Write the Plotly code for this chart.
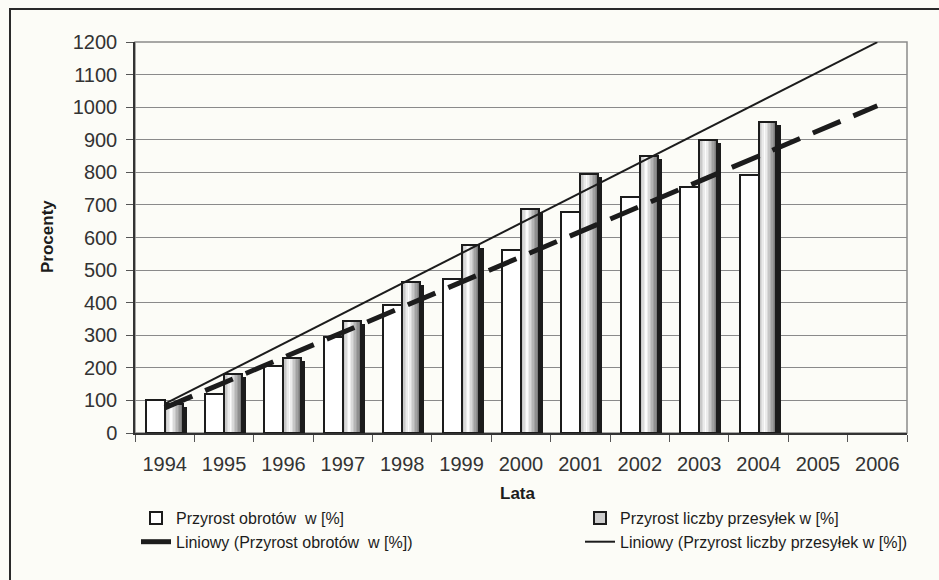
import numpy as np
import plotly.graph_objects as go

# ---------------- data ----------------
years = ['1994', '1995', '1996', '1997', '1998', '1999', '2000',
         '2001', '2002', '2003', '2004', '2005', '2006']
bar_years = years[:11]
turnover = [100, 119, 206, 295, 392, 473, 563, 679, 725, 756, 791]   # Przyrost obrotów w [%]
parcels = [90, 180, 230, 344, 464, 578, 688, 796, 850, 898, 953]     # Przyrost liczby przesyłek w [%]
y_tick_vals = list(range(0, 1201, 100))

name_turn = 'Przyrost obrotów  w [%]'
name_parc = 'Przyrost liczby przesyłek w [%]'
name_trend_turn = 'Liniowy (Przyrost obrotów  w [%])'
name_trend_parc = 'Liniowy (Przyrost liczby przesyłek w [%])'
x_title = 'Lata'
y_title = 'Procenty'

# linear trend lines (Excel "Liniowy"), fitted on the data and extended to 2006
idx = np.arange(len(bar_years))
all_idx = np.arange(len(years))
trend_turn = np.polyval(np.polyfit(idx, turnover, 1), all_idx)
trend_parc = np.polyval(np.polyfit(idx, parcels, 1), all_idx)

# ---------------- style ----------------
FONT = 'Liberation Sans, Arial, sans-serif'
BG = '#fcfcf7'
INK = '#1c1c1c'
W, H = 939, 580
ML, MR, MT, MB = 135, 32, 42, 147

WHITE_OFF, WHITE_W = -0.32, 0.32
GRAY_OFF, GRAY_W = 0.0, 0.30
SHADOW_DX = 0.07
SHADOW_DROP = 9  # drop of shadow top, in value units

fig = go.Figure()

# white bars
fig.add_trace(go.Bar(
    x=bar_years, y=turnover, name=name_turn, offset=WHITE_OFF, width=WHITE_W,
    marker=dict(color='white', line=dict(color=INK, width=2)),
    legend='legend', legendrank=1, hoverinfo='skip'))

# shadow of gradient bars
fig.add_trace(go.Bar(
    x=bar_years, y=[v - SHADOW_DROP for v in parcels], offset=GRAY_OFF + SHADOW_DX, width=GRAY_W,
    marker=dict(color=INK, line=dict(width=0)), showlegend=False, hoverinfo='skip'))

# base of gradient bars (legend entry)
fig.add_trace(go.Bar(
    x=bar_years, y=parcels, name=name_parc, offset=GRAY_OFF, width=GRAY_W,
    marker=dict(color='#cdcdcd', line=dict(color=INK, width=2)),
    legend='legend2', legendrank=2, hoverinfo='skip'))

# gradient slices
n_slices = 12
for i in range(n_slices):
    t = (i + 0.5) / n_slices
    if t < 0.38:
        g = 175 + (253 - 175) * (t / 0.38)
    else:
        g = 253 - (253 - 115) * ((t - 0.38) / 0.62)
    g = int(round(g))
    fig.add_trace(go.Bar(
        x=bar_years, y=parcels, offset=GRAY_OFF + i * GRAY_W / n_slices,
        width=GRAY_W / n_slices + 0.002,
        marker=dict(color=f'rgb({g},{g},{g})', line=dict(width=0)),
        showlegend=False, hoverinfo='skip'))

# outline of gradient bars
fig.add_trace(go.Bar(
    x=bar_years, y=parcels, offset=GRAY_OFF, width=GRAY_W,
    marker=dict(color='rgba(0,0,0,0)', line=dict(color=INK, width=2)),
    showlegend=False, hoverinfo='skip'))

# trend lines
fig.add_trace(go.Scatter(
    x=years, y=trend_turn, mode='lines', name=name_trend_turn,
    line=dict(color=INK, width=5, dash='30px,14px'),
    legend='legend', legendrank=3, hoverinfo='skip'))
fig.add_trace(go.Scatter(
    x=years, y=trend_parc, mode='lines', name=name_trend_parc,
    line=dict(color=INK, width=2),
    legend='legend2', legendrank=4, hoverinfo='skip'))

plot_w = W - ML - MR
plot_h = H - MT - MB

legend_common = dict(
    orientation='v', xref='container', yref='container',
    yanchor='top', y=1 - 501 / H,
    xanchor='left', font=dict(family=FONT, size=16, color=INK),
    bgcolor='rgba(0,0,0,0)', borderwidth=0, tracegroupgap=0, itemwidth=30,
    traceorder='normal')

fig.update_layout(
    width=W, height=H,
    margin=dict(l=ML, r=MR, t=MT, b=MB, pad=0, autoexpand=False),
    paper_bgcolor=BG, plot_bgcolor=BG,
    barmode='overlay', bargap=0,
    showlegend=True,
    legend=dict(x=136 / W, **legend_common),
    legend2=dict(x=580 / W, **legend_common),
    xaxis=dict(
        type='category', categoryorder='array', categoryarray=years,
        range=[-0.5, len(years) - 0.5], automargin=False,
        showgrid=False, showline=True, linecolor='#333', linewidth=1.5,
        ticks='outside', ticklen=7, tickcolor='#555', tickson='boundaries',
        tickangle=0, ticklabelstandoff=12,
        tickfont=dict(family=FONT, size=20, color='#333'),
        zeroline=False, fixedrange=True),
    yaxis=dict(
        range=[0, 1200], tickvals=y_tick_vals, ticktext=[str(v) for v in y_tick_vals],
        automargin=False, ticklabelstandoff=5,
        showgrid=True, gridcolor='#8a8a8a', gridwidth=1,
        showline=True, linecolor='#333', linewidth=1.5,
        ticks='outside', ticklen=7, tickcolor='#555',
        tickfont=dict(family=FONT, size=20, color='#333'),
        zeroline=False, fixedrange=True),
    annotations=[
        dict(text=f'<b>{x_title}</b>', xref='paper', yref='paper',
             x=(518 - ML) / plot_w, y=-(493 - (MT + plot_h)) / plot_h,
             xanchor='center', yanchor='middle', showarrow=False,
             font=dict(family=FONT, size=17, color=INK)),
        dict(text=f'<b>{y_title}</b>', xref='paper', yref='paper',
             x=(47 - ML) / plot_w, y=(MT + plot_h - 237) / plot_h,
             xanchor='center', yanchor='middle', showarrow=False, textangle=-90,
             font=dict(family=FONT, size=17, color=INK)),
    ],
    shapes=[
        # plot area border
        dict(type='rect', xref='paper', yref='paper', x0=0, x1=1, y0=0, y1=1,
             line=dict(color='#8a8a8a', width=1.5), layer='below'),
        # outer chart frame (cut off at right/bottom)
        dict(type='rect', xref='paper', yref='paper',
             x0=(10 - ML) / plot_w, x1=1.3,
             y0=-0.6, y1=1 + (MT - 9) / plot_h,
             line=dict(color='#2a2a2a', width=2), layer='below'),
    ],
)

fig.write_html('out.html', config={'displayModeBar': False},
               post_script="document.body.style.margin='0px';")
